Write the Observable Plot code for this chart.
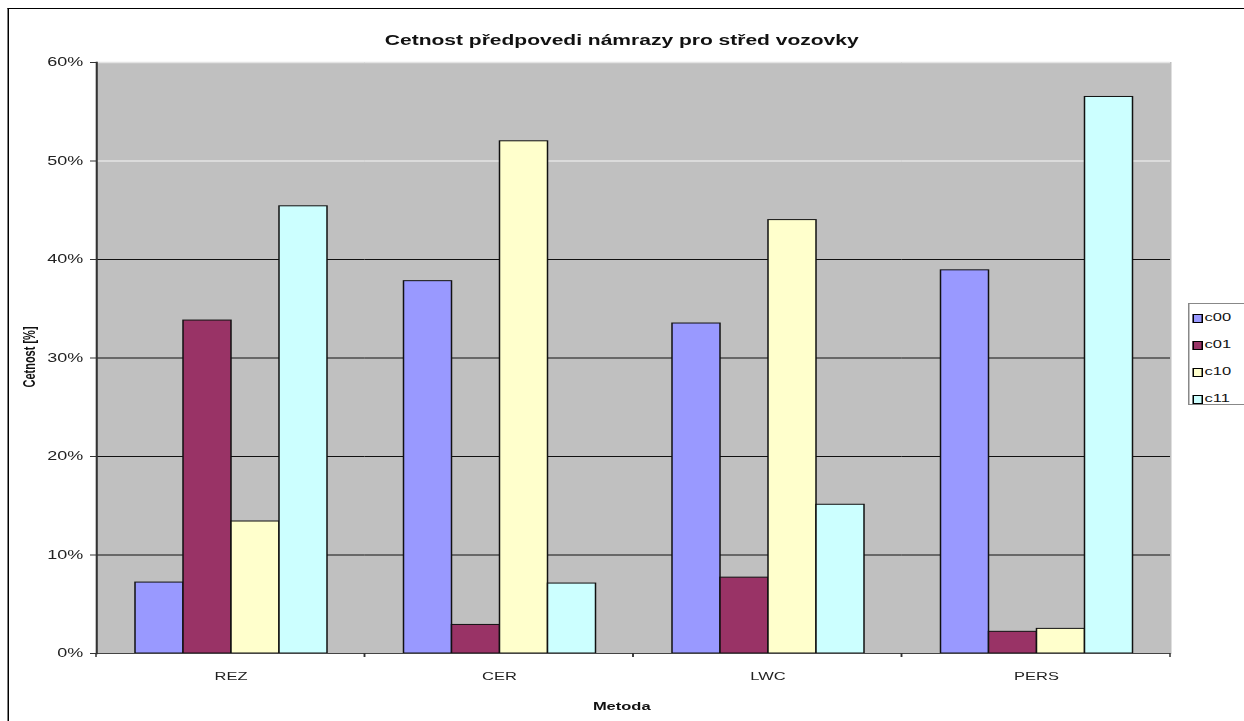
<!DOCTYPE html>
<html>
<head>
<meta charset="utf-8">
<script src="https://cdn.jsdelivr.net/npm/d3@7"></script>
<script src="https://cdn.jsdelivr.net/npm/@observablehq/plot@0.6"></script>
<style>
  html, body { margin: 0; padding: 0; background: #fff; overflow: hidden; }
  #chart {
    position: relative; width: 829px; height: 721px;
    transform: scaleX(1.5); transform-origin: 0 0;
    font-family: "Liberation Sans", Arial, sans-serif; color: #111;
  }
  #border { position: absolute; left: 5.3px; top: 8px; width: 900px; height: 800px;
    border-left: 1px solid #000; border-top: 1px solid #000; }
  #title { height: 50px; box-sizing: border-box; padding-top: 32px; line-height: 16px;
    font-size: 14px; font-weight: bold; text-align: center; }
  #xlabel { position: absolute; left: 0; width: 829px; top: 698px; line-height: 16px;
    font-size: 11px; font-weight: bold; text-align: center; }
  #ylabel { position: absolute; left: 18.7px; top: 357px; font-size: 11px; font-weight: bold;
    white-space: nowrap; transform: translate(-50%, -50%) rotate(-90deg); }
  #legend { position: absolute; left: 792px; top: 303px; width: 60px; height: 102px;
    border: 1px solid #888; box-sizing: border-box; background: #fff; }
  #legend .item { height: 27px; line-height: 27px; font-size: 11px; padding-left: 2px; white-space: nowrap; }
  #legend .sw { display: inline-block; width: 5px; height: 7px; border: 1px solid #000;
    vertical-align: middle; margin-right: 1px; }
</style>
</head>
<body>
<div id="chart">
  <div id="border"></div>
  <div id="title">Cetnost předpovedi námrazy pro střed vozovky</div>
  <div id="ylabel">Cetnost [%]</div>
  <div id="xlabel">Metoda</div>
  <div id="legend"></div>
</div>
<script>
// Forecast methods (categories) and outcome classes (series)
const methods = ["REZ", "CER", "LWC", "PERS"];
const series = ["c00", "c01", "c10", "c11"];

// Frequency of each outcome class per method, in percent
const c00 = [7.2, 37.8, 33.5, 38.9];
const c01 = [33.8, 2.9, 7.7, 2.2];
const c10 = [13.4, 52.0, 44.0, 2.5];
const c11 = [45.4, 7.1, 15.1, 56.5];

// Value axis ticks
const yTicks = [0, 10, 20, 30, 40, 50, 60];
const darkGrid = [10, 20, 30, 40];
const lightGrid = [50, 60];

const seriesColors = ["#9999ff", "#993366", "#ffffcc", "#ccffff"];

const valuesBySeries = {c00, c01, c10, c11};
const data = [];
methods.forEach((m, i) => {
  series.forEach(s => data.push({method: m, series: s, value: valuesBySeries[s][i]}));
});

// Short tick marks on the category axis, at the edges of each category band
function bandEdgeTicks(index, scales) {
  const g = d3.create("svg:g").attr("stroke", "#333");
  const [x0, x1] = scales.x.range();
  const y0 = scales.y(0);
  for (const x of [x0, x1]) {
    g.append("line").attr("x1", x).attr("x2", x).attr("y1", y0).attr("y2", y0 + 4);
  }
  return g.node();
}

const plot = Plot.plot({
  width: 829,
  height: 671,
  marginTop: 12,
  marginBottom: 68,
  marginLeft: 62,
  marginRight: 48,
  style: {fontFamily: "'Liberation Sans', Arial, sans-serif", color: "#222", background: "transparent"},
  fx: {domain: methods, padding: 0},
  x: {domain: series, paddingInner: 0, paddingOuter: 0.75, axis: null},
  y: {domain: [0, 60]},
  color: {domain: series, range: seriesColors},
  marks: [
    // plot-area background; the matching stroke hides seams between facet cells
    Plot.frame({fill: "#c0c0c0", stroke: "#c0c0c0", strokeWidth: 1}),
    Plot.ruleY(darkGrid, {stroke: "#111", strokeWidth: 1}),
    Plot.ruleY(lightGrid, {stroke: "#e4e4e4", strokeWidth: 1.5}),
    Plot.barY(data, {fx: "method", x: "series", y: "value", fill: "series", stroke: "#111", strokeWidth: 1}),
    Plot.ruleY([0], {stroke: "#444", strokeWidth: 1.2}),
    Plot.frame({anchor: "left", facetAnchor: "left", stroke: "#333", strokeWidth: 1.4}),
    bandEdgeTicks,
    Plot.axisY({ticks: yTicks, tickFormat: d => d + "%", tickSize: 4, tickPadding: 5, fontSize: 12, label: null, stroke: "#333"}),
    Plot.axisFx({anchor: "bottom", tickSize: 0, tickPadding: 19, fontSize: 11, label: null})
  ]
});

const chart = document.getElementById("chart");
chart.insertBefore(plot, document.getElementById("ylabel"));

// Legend built from the same series and colours
const legend = d3.select("#legend");
series.forEach((s, i) => {
  const item = legend.append("div").attr("class", "item");
  item.append("span").attr("class", "sw").style("background", seriesColors[i]);
  item.append("span").text(s);
});
</script>
</body>
</html>
